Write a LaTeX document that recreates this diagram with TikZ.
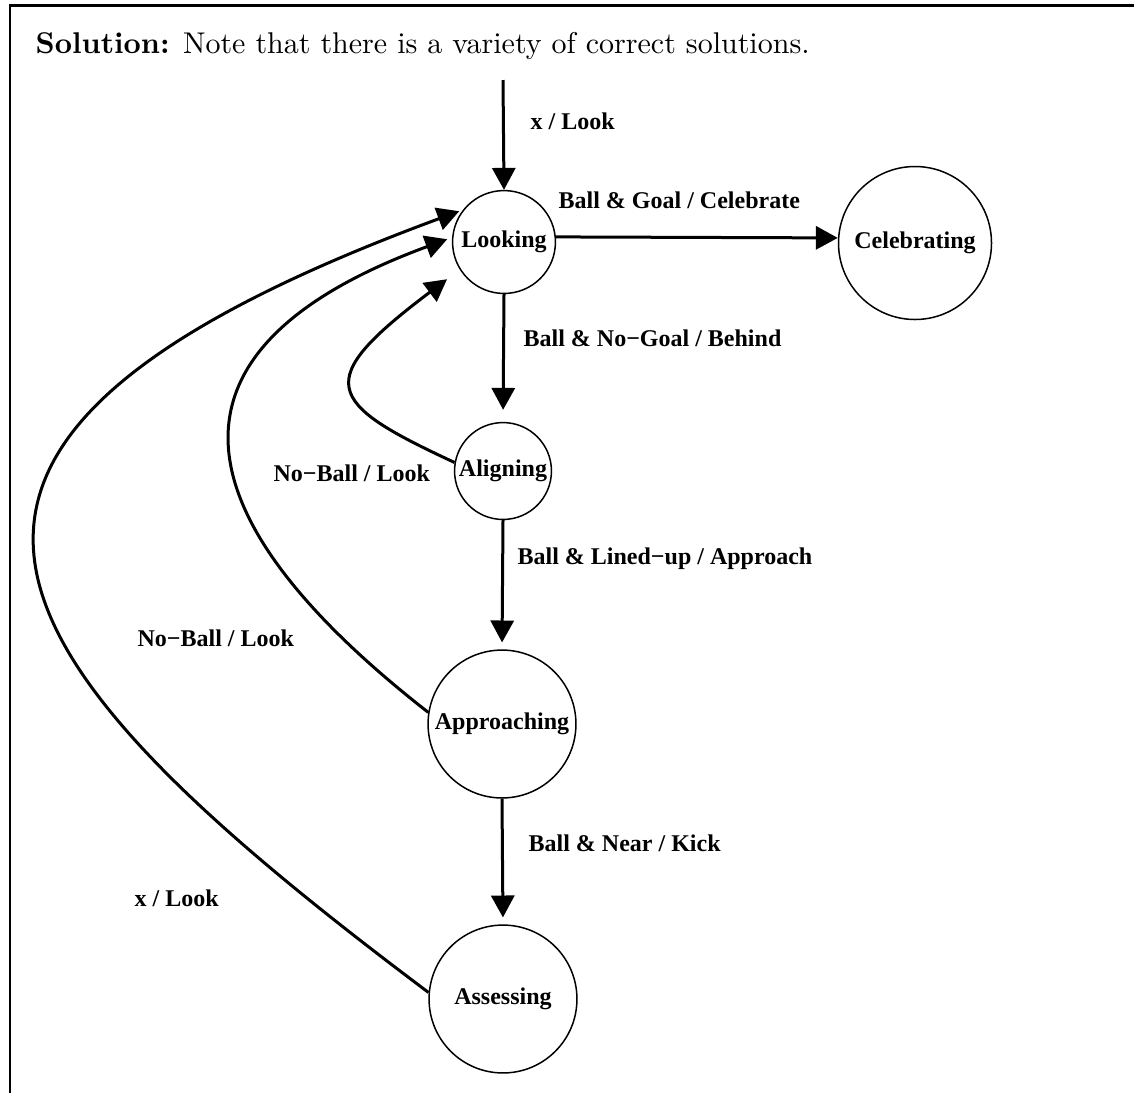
\documentclass[tikz,border=0pt]{standalone}
\usepackage{fontspec}
\newfontfamily\labfont{Liberation Serif}
\usetikzlibrary{arrows.meta}
\begin{document}
\begin{tikzpicture}[x=0.33333pt,y=-0.33333pt,
  state/.style={circle,draw,line width=0.5pt,inner sep=0pt,font=\labfont\bfseries\fontsize{8}{9}\selectfont},
  lbl/.style={anchor=west,inner sep=0pt,text height=5.3pt,text depth=0pt,font=\labfont\bfseries\fontsize{8}{9}\selectfont},
  arr/.style={line width=1pt,-{Triangle[length=7.3pt,width=7.7pt]}},
  frameline/.style={line width=0.7pt}]
\useasboundingbox (0,0) rectangle (1134,1093);
\draw[frameline] (1134,5.5) -- (10,5.5) -- (10,1093);
\node[anchor=base west,inner sep=0pt] (title) at (35,53) {\textbf{Solution:} Note that there is a variety of correct solutions.};

\node[state,minimum size=34.3pt] (look) at (504,242) {Looking};
\node[state,minimum size=51pt] (celeb) at (915,243) {Celebrating};
\node[state,minimum size=32.3pt] (align) at (503,471) {Aligning};
\node[state,minimum size=49.3pt] (appr) at (502,724) {Approaching};
\node[state,minimum size=49.3pt] (assess) at (503,999) {Assessing};

\coordinate (start) at (503,80);
\draw[arr] (start) -- (look.north);
\draw[arr] ([yshift=1.7pt]look.east) -- ([yshift=1.7pt]celeb.west);
\draw[arr,shorten >=4pt] (look.south) -- (align.north);
\draw[arr,shorten >=2.3pt] (align.south) -- (appr.north);
\draw[arr,shorten >=2.3pt] (appr.south) -- (assess.north);

\draw[arr,shorten >=5.3pt] (align.170) .. controls (324,402) and (312,381) .. (look.212);
\draw[arr,shorten >=1.7pt] (appr.171) .. controls (169,510) and (154,347) .. (look.175);
\draw[arr,shorten >=1.3pt] (assess.175) .. controls (-28,650) and (-169,443) .. (look.142);

\node[lbl] (l1) at (530,122) {x / Look};
\node[lbl] (l2) at (558,201) {Ball \& Goal / Celebrate};
\node[lbl] (l3) at (523,339) {Ball \& No−Goal / Behind};
\node[lbl] (l4) at (273,474) {No−Ball / Look};
\node[lbl] (l5) at (517,557) {Ball \& Lined−up / Approach};
\node[lbl] (l6) at (137,639) {No−Ball / Look};
\node[lbl] (l7) at (528,844) {Ball \& Near / Kick};
\node[lbl] (l8) at (134,899) {x / Look};
\end{tikzpicture}
\end{document}
